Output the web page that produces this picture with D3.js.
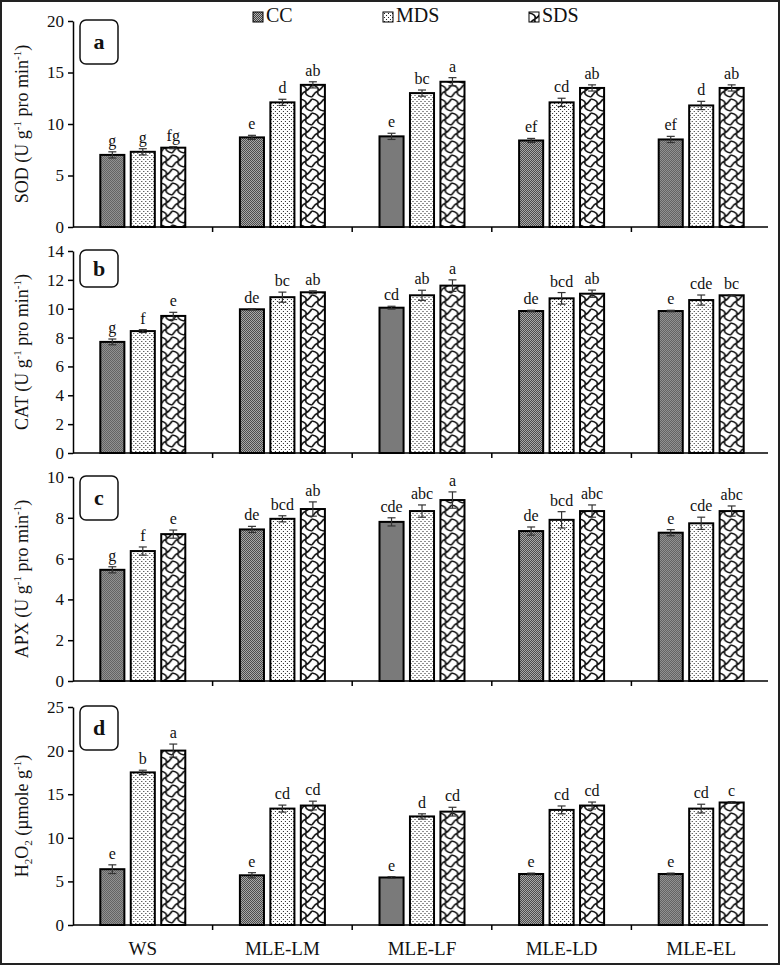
<!DOCTYPE html>
<html>
<head>
<meta charset="utf-8">
<script src="https://cdn.jsdelivr.net/npm/d3@7"></script>
<style>
  body { margin: 0; background: #fff; }
  svg { display: block; }
  text { font-family: "Liberation Serif", "Times New Roman", serif; fill: #111; }
</style>
</head>
<body>
<div id="chart"></div>
<script>
// treatments and stress levels
var groups = ["WS", "MLE-LM", "MLE-LF", "MLE-LD", "MLE-EL"];
var series = ["CC", "MDS", "SDS"];

// rows = groups, cols = CC, MDS, SDS
var sodMean = [[7.0, 7.3, 7.7], [8.7, 12.1, 13.8], [8.8, 13.0, 14.1], [8.4, 12.1, 13.5], [8.5, 11.8, 13.5]];
var sodErr  = [[0.3, 0.3, 0.1], [0.2, 0.3, 0.3], [0.3, 0.3, 0.4], [0.2, 0.4, 0.3], [0.3, 0.4, 0.3]];
var sodLet  = [["g", "g", "fg"], ["e", "d", "ab"], ["e", "bc", "a"], ["ef", "cd", "ab"], ["ef", "d", "ab"]];
var sodTicks = [0, 5, 10, 15, 20];

var catMean = [[7.7, 8.45, 9.5], [9.96, 10.8, 11.14], [10.07, 10.93, 11.6], [9.84, 10.72, 11.04], [9.84, 10.6, 10.93]];
var catErr  = [[0.2, 0.1, 0.25], [0.05, 0.35, 0.1], [0.1, 0.35, 0.4], [0.05, 0.4, 0.25], [0.05, 0.35, 0.05]];
var catLet  = [["g", "f", "e"], ["de", "bc", "ab"], ["cd", "ab", "a"], ["de", "bcd", "ab"], ["e", "cde", "bc"]];
var catTicks = [0, 2, 4, 6, 8, 10, 12, 14];

var apxMean = [[5.45, 6.37, 7.2], [7.43, 7.95, 8.43], [7.8, 8.33, 8.87], [7.35, 7.9, 8.33], [7.27, 7.73, 8.33]];
var apxErr  = [[0.15, 0.2, 0.2], [0.15, 0.15, 0.35], [0.2, 0.3, 0.4], [0.2, 0.4, 0.3], [0.15, 0.3, 0.25]];
var apxLet  = [["g", "f", "e"], ["de", "bcd", "ab"], ["cde", "abc", "a"], ["de", "bcd", "abc"], ["e", "cde", "abc"]];
var apxTicks = [0, 2, 4, 6, 8, 10];

var h2o2Mean = [[6.4, 17.5, 20.0], [5.7, 13.35, 13.7], [5.45, 12.45, 13.0], [5.85, 13.2, 13.7], [5.85, 13.35, 14.05]];
var h2o2Err  = [[0.5, 0.25, 0.75], [0.3, 0.4, 0.5], [0.1, 0.3, 0.5], [0.1, 0.45, 0.4], [0.1, 0.5, 0.1]];
var h2o2Let  = [["e", "b", "a"], ["e", "cd", "cd"], ["e", "d", "cd"], ["e", "cd", "cd"], ["e", "cd", "c"]];
var h2o2Ticks = [0, 5, 10, 15, 20, 25];

var width = 782, height = 966;
var plotLeft = 73, plotRight = 771, axisEnd = 768;

var panels = [
    { tag: "a", mean: sodMean, err: sodErr, letters: sodLet, ticks: sodTicks, top: 21, bottom: 227, boxH: 44,
      title: [["SOD (U g", 0], ["-1", 1], [" pro min", 0], ["-1", 1], [")", 0]] },
    { tag: "b", mean: catMean, err: catErr, letters: catLet, ticks: catTicks, top: 251, bottom: 453, boxH: 37,
      title: [["CAT (U g", 0], ["-1", 1], [" pro min", 0], ["-1", 1], [")", 0]] },
    { tag: "c", mean: apxMean, err: apxErr, letters: apxLet, ticks: apxTicks, top: 477, bottom: 681, boxH: 44,
      title: [["APX (U g", 0], ["-1", 1], [" pro min", 0], ["-1", 1], [")", 0]] },
    { tag: "d", mean: h2o2Mean, err: h2o2Err, letters: h2o2Let, ticks: h2o2Ticks, top: 707, bottom: 925, boxH: 44,
      title: [["H", 0], ["2", -1], ["O", 0], ["2", -1], [" (µmole g", 0], ["-1", 1], [")", 0]] }
];

var svg = d3.select("#chart").append("svg")
    .attr("width", width)
    .attr("height", height);

svg.append("rect").attr("width", width).attr("height", height).attr("fill", "#fff");

// fill patterns
var defs = svg.append("defs");

var pCC = defs.append("pattern").attr("id", "pat-CC")
    .attr("patternUnits", "userSpaceOnUse").attr("width", 2).attr("height", 2);
pCC.append("rect").attr("width", 2).attr("height", 2).attr("fill", "#b4b4b4");
pCC.append("rect").attr("width", 1).attr("height", 1).attr("fill", "#404040");
pCC.append("rect").attr("x", 1).attr("y", 1).attr("width", 1).attr("height", 1).attr("fill", "#404040");

var pMDS = defs.append("pattern").attr("id", "pat-MDS")
    .attr("patternUnits", "userSpaceOnUse").attr("width", 4).attr("height", 4);
pMDS.append("rect").attr("width", 4).attr("height", 4).attr("fill", "#fff");
pMDS.append("rect").attr("x", 1).attr("y", 1).attr("width", 1).attr("height", 1).attr("fill", "#222");
pMDS.append("rect").attr("x", 3).attr("y", 3).attr("width", 1).attr("height", 1).attr("fill", "#222");

var pSDS = defs.append("pattern").attr("id", "pat-SDS")
    .attr("patternUnits", "userSpaceOnUse").attr("width", 12).attr("height", 14);
pSDS.append("rect").attr("width", 12).attr("height", 14).attr("fill", "#fff");
pSDS.append("path")
    .attr("d", "M0,1 C5,2 7,4 6,7 C5,10 7,12 12,13 M6,7 C8,6 10,4 12,1 M0,13 C2,10 3,8 6,7")
    .attr("fill", "none").attr("stroke", "#111").attr("stroke-width", 1.7);

var x0 = d3.scaleBand().domain(groups).range([plotLeft, plotRight]);
var x1 = d3.scaleBand().domain(series).range([0, 85]).paddingInner(0.21);
var groupOffset = (x0.bandwidth() - 85) / 2;

panels.forEach(function(p) {
    var y = d3.scaleLinear()
        .domain([0, p.ticks[p.ticks.length - 1]])
        .range([p.bottom, p.top]);

    var g = svg.append("g");

    // bars
    var rows = g.selectAll(".grp")
        .data(groups)
        .enter()
        .append("g")
        .attr("transform", function(d) { return "translate(" + (x0(d) + groupOffset) + ",0)"; });

    rows.each(function(grp, gi) {
        var row = d3.select(this);
        var recs = series.map(function(s, si) {
            return { s: s, v: p.mean[gi][si], e: p.err[gi][si], lab: p.letters[gi][si] };
        });

        row.selectAll("rect")
            .data(recs)
            .enter()
            .append("rect")
            .attr("x", function(d) { return x1(d.s); })
            .attr("y", function(d) { return y(d.v); })
            .attr("width", x1.bandwidth())
            .attr("height", function(d) { return y(0) - y(d.v); })
            .attr("fill", function(d) { return "url(#pat-" + d.s + ")"; })
            .attr("stroke", "#000")
            .attr("stroke-width", 2);

        var eb = row.selectAll(".err")
            .data(recs)
            .enter()
            .append("g")
            .attr("stroke", "#333")
            .attr("stroke-width", 1.2);
        eb.append("line")
            .attr("x1", function(d) { return x1(d.s) + x1.bandwidth() / 2; })
            .attr("x2", function(d) { return x1(d.s) + x1.bandwidth() / 2; })
            .attr("y1", function(d) { return y(d.v - d.e); })
            .attr("y2", function(d) { return y(d.v + d.e); });
        eb.append("line")
            .attr("x1", function(d) { return x1(d.s) + x1.bandwidth() / 2 - 4; })
            .attr("x2", function(d) { return x1(d.s) + x1.bandwidth() / 2 + 4; })
            .attr("y1", function(d) { return y(d.v + d.e); })
            .attr("y2", function(d) { return y(d.v + d.e); });
        eb.append("line")
            .attr("x1", function(d) { return x1(d.s) + x1.bandwidth() / 2 - 4; })
            .attr("x2", function(d) { return x1(d.s) + x1.bandwidth() / 2 + 4; })
            .attr("y1", function(d) { return y(d.v - d.e); })
            .attr("y2", function(d) { return y(d.v - d.e); });

        row.selectAll(".lab")
            .data(recs)
            .enter()
            .append("text")
            .attr("x", function(d) { return x1(d.s) + x1.bandwidth() / 2; })
            .attr("y", function(d) { return y(d.v + d.e) - 6; })
            .attr("text-anchor", "middle")
            .attr("font-size", 16)
            .text(function(d) { return d.lab; });
    });

    // y axis
    var ya = g.append("g")
        .attr("transform", "translate(" + plotLeft + ",0)")
        .call(d3.axisLeft(y).tickValues(p.ticks).tickSize(5).tickSizeOuter(0).tickPadding(4));
    ya.selectAll("text").attr("font-size", 17).attr("font-family", "Liberation Serif, serif").attr("fill", "#111");
    ya.selectAll("line,path").attr("stroke", "#000").attr("stroke-width", 1.5);

    // x axis with ticks at group boundaries
    g.append("line")
        .attr("x1", plotLeft).attr("x2", axisEnd)
        .attr("y1", p.bottom).attr("y2", p.bottom)
        .attr("stroke", "#000").attr("stroke-width", 1.5);
    g.selectAll(".bt")
        .data(groups.slice(1))
        .enter()
        .append("line")
        .attr("x1", function(d) { return x0(d); })
        .attr("x2", function(d) { return x0(d); })
        .attr("y1", p.bottom)
        .attr("y2", p.bottom + 5)
        .attr("stroke", "#000").attr("stroke-width", 1.5);

    // y title
    var t = g.append("text")
        .attr("transform", "translate(28," + ((p.top + p.bottom) / 2) + ") rotate(-90)")
        .attr("text-anchor", "middle")
        .attr("font-size", 18);
    var shift = 0;
    p.title.forEach(function(part) {
        var ts = t.append("tspan").text(part[0]);
        var want = part[1] === 1 ? -7 : (part[1] === -1 ? 4 : 0);
        if (want != shift) ts.attr("dy", want - shift);
        if (part[1] !== 0) ts.attr("font-size", 11);
        shift = want;
    });

    // panel tag box
    g.append("rect")
        .attr("x", 80).attr("y", p.top - 1)
        .attr("width", 38).attr("height", p.boxH)
        .attr("rx", 6)
        .attr("fill", "#fff").attr("stroke", "#111").attr("stroke-width", 1.5);
    g.append("text")
        .attr("x", 99).attr("y", p.top - 1 + p.boxH / 2 + 7)
        .attr("text-anchor", "middle")
        .attr("font-size", 22)
        .attr("font-weight", "bold")
        .text(p.tag);
});

// category labels under last panel
svg.selectAll(".cat")
    .data(groups)
    .enter()
    .append("text")
    .attr("x", function(d) { return x0(d) + x0.bandwidth() / 2; })
    .attr("y", 955)
    .attr("text-anchor", "middle")
    .attr("font-size", 19)
    .text(function(d) { return d; });

// legend
var legX = [253, 383, 529];
var leg = svg.selectAll(".leg")
    .data(series)
    .enter()
    .append("g")
    .attr("transform", function(d, i) { return "translate(" + legX[i] + ",12)"; });
leg.append("rect")
    .attr("width", 10).attr("height", 10)
    .attr("fill", function(d) { return "url(#pat-" + d + ")"; })
    .attr("stroke", "#000").attr("stroke-width", 1);
leg.append("text")
    .attr("x", 13).attr("y", 10)
    .attr("font-size", 20)
    .text(function(d) { return d; });

// outer frame
svg.append("rect")
    .attr("x", 1).attr("y", 1)
    .attr("width", width - 4).attr("height", height - 3)
    .attr("fill", "none").attr("stroke", "#222").attr("stroke-width", 2);
</script>
</body>
</html>
